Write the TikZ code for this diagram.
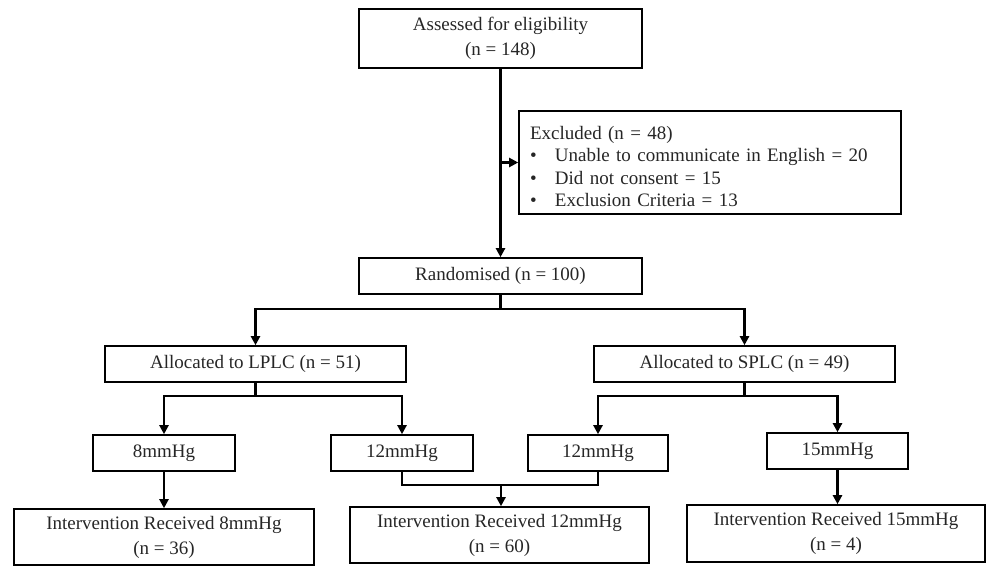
\documentclass[tikz,border=0pt]{standalone}
\usepackage{fontspec}
\setmainfont{Liberation Serif}
\usetikzlibrary{arrows.meta,calc}
\definecolor{txt}{gray}{0.15}
\begin{document}
\begin{tikzpicture}[x=1pt,y=-1pt,
  box/.style={draw=black,line width=1.6pt,inner sep=0pt,align=center,text=txt,
    font=\fontsize{19}{24}\selectfont},
  twoline/.style={box,font=\fontsize{19}{25}\selectfont},
  link/.style={line width=2.2pt},
  arr/.style={link,-{Triangle[length=9pt,width=9pt]}}]
\useasboundingbox (0,0) rectangle (987,567);
\node[twoline,minimum width=283pt,minimum height=59pt] (top) at (500.5,38.5) {Assessed for eligibility\\(n = 148)};
\node[box,font=\fontsize{19}{22.5}\selectfont,minimum width=382pt,minimum height=103pt,text width=360pt,align=left,inner xsep=11pt] (excl) at (710,162.5)
 {\rule{0pt}{21pt}Excluded (n = 48)\\
  \makebox[25pt][l]{\textbullet}Unable to communicate in English = 20\\
  \makebox[25pt][l]{\textbullet}Did not consent = 15\\
  \makebox[25pt][l]{\textbullet}Exclusion Criteria = 13};
\node[box,minimum width=283pt,minimum height=36pt] (rand) at (500.5,276) {Randomised (n = 100)};
\node[box,minimum width=301pt,minimum height=36pt] (lplc) at (255.5,364) {Allocated to LPLC (n = 51)};
\node[box,minimum width=301pt,minimum height=36pt] (splc) at (744.5,364) {Allocated to SPLC (n = 49)};
\node[box,minimum width=142pt,minimum height=36pt] (p8) at (164,453) {8mmHg};
\node[box,minimum width=142pt,minimum height=36pt] (p12a) at (402,453) {12mmHg};
\node[box,minimum width=140pt,minimum height=36pt] (p12b) at (598,453) {12mmHg};
\node[box,minimum width=141pt,minimum height=36pt] (p15) at (837.5,451) {15mmHg};
\node[twoline,minimum width=300pt,minimum height=56pt] (r8) at (164,537) {Intervention Received 8mmHg\\(n = 36)};
\node[twoline,minimum width=299pt,minimum height=56pt] (r12) at (499.5,535) {Intervention Received 12mmHg\\(n = 60)};
\node[twoline,minimum width=298pt,minimum height=57pt] (r15) at (836,533.5) {Intervention Received 15mmHg\\(n = 4)};
% connectors
\draw[arr] (top.south) -- (rand.north);
\draw[arr] (top.south |- excl.west) -- (excl.west);
\draw[link] (rand.south) -- ++(0,14) coordinate (rb);
\draw[arr] (rb) -| (lplc.north);
\draw[arr] (rb) -| (splc.north);
\draw[link] (lplc.south) -- ++(0,13) coordinate (lb);
\draw[arr] (lb) -| (p8.north);
\draw[arr] (lb) -| (p12a.north);
\draw[link] (splc.south) -- ++(0,13) coordinate (sb);
\draw[arr] (sb) -| (p12b.north);
\draw[arr] (sb) -| (p15.north);
\draw[arr] (p8.south) -- (r8.north);
\coordinate (m12) at (501,485);
\draw[link] (p12a.south) |- (m12) -| (p12b.south);
\draw[arr] (m12) -- (m12 |- r12.north);
\draw[arr] (p15.south) -- (p15.south |- r15.north);
\end{tikzpicture}
\end{document}
